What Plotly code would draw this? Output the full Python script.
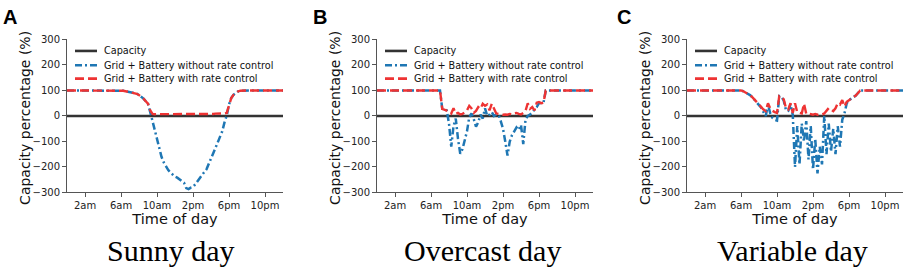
import numpy as np
import plotly.graph_objects as go

# ---------------- data (15-minute resolution, hours 0..24) ----------------
hours = np.arange(0, 24.01, 0.25)
tick_vals = [2, 6, 10, 14, 18, 22]
tick_text = ["2am", "6am", "10am", "2pm", "6pm", "10pm"]
y_ticks = [-300, -200, -100, 0, 100, 200, 300]

capacity = [0] * 97

sunny_no_ctrl = [
    100, 100, 100, 100, 100, 100, 100, 100,
    100, 100, 100, 100, 100, 100, 100, 100,
    100, 100, 100, 100, 100, 100, 100, 100,
    100, 99, 97, 95, 94, 92, 90, 87,
    82, 76, 68, 58, 48, 15, -20, -65,
    -100, -132, -160, -182, -200, -212, -222, -232,
    -238, -242, -248, -255, -262, -283, -287, -281,
    -278, -268, -255, -244, -232, -220, -209, -190,
    -168, -146, -125, -104, -84, -60, -25, 2,
    45, 70, 83, 90, 96, 99, 100, 100,
    100, 100, 100, 100, 100, 100, 100, 100,
    100, 100, 100, 100, 100, 100, 100, 100,
    100,
]
sunny_ctrl = [
    100, 100, 100, 100, 100, 100, 100, 100,
    100, 100, 100, 100, 100, 100, 100, 100,
    100, 100, 100, 100, 100, 100, 100, 100,
    100, 99, 97, 95, 94, 92, 90, 87,
    82, 76, 68, 58, 48, 22, 8, 7,
    7, 7, 7, 7, 6, 6, 6, 6,
    6, 6, 6, 6, 6, 7, 7, 7,
    7, 7, 7, 7, 7, 8, 8, 8,
    8, 8, 9, 9, 9, 10, 10, 12,
    45, 70, 83, 90, 96, 99, 100, 100,
    100, 100, 100, 100, 100, 100, 100, 100,
    100, 100, 100, 100, 100, 100, 100, 100,
    100,
]

overcast_no_ctrl = [
    100, 100, 100, 100, 100, 100, 100, 100,
    100, 100, 100, 100, 100, 100, 100, 100,
    100, 100, 100, 100, 100, 100, 100, 100,
    100, 100, 100, 100, 100, 28, 25, 22,
    -30, -120, -40, -10, -90, -148, -130, -90,
    -60, -5, 10, -12, -42, -25, 5, -10,
    30, 0, 5, 15, 0, 5, 5, -20,
    -50, -100, -155, -100, -75, -60, -45, -55,
    -35, -110, -15, 0, 5, 15, 25, 35,
    50, 50, 52, 100, 100, 100, 100, 100,
    100, 100, 100, 100, 100, 100, 100, 100,
    100, 100, 100, 100, 100, 100, 100, 100,
    100,
]
overcast_ctrl = [
    100, 100, 100, 100, 100, 100, 100, 100,
    100, 100, 100, 100, 100, 100, 100, 100,
    100, 100, 100, 100, 100, 100, 100, 100,
    100, 100, 100, 100, 100, 28, 25, 22,
    18, 10, 30, 8, 12, 6, 8, 15,
    22, 40, 30, 12, 20, 35, 28, 48,
    40, 45, 22, 48, 30, 10, 8, 6,
    5, 6, 5, 8, 6, 10, 12, 8,
    6, 12, 20, 50, 28, 35, 22, 52,
    55, 50, 52, 100, 100, 100, 100, 100,
    100, 100, 100, 100, 100, 100, 100, 100,
    100, 100, 100, 100, 100, 100, 100, 100,
    100,
]

variable_no_ctrl = [
    100, 100, 100, 100, 100, 100, 100, 100,
    100, 100, 100, 100, 100, 100, 100, 100,
    100, 100, 100, 100, 100, 100, 100, 100,
    100, 97, 93, 88, 82, 74, 64, 56,
    45, 32, 15, 0, 45, 10, -8, -15,
    -18, 78, 75, 60, 22, 20, 45, 5,
    -200, -40, -190, -30, -100, -20, -170, -40,
    -210, -90, -225, -120, -190, 0, -150, -30,
    -140, -50, -150, -40, -120, -15, 10, 50,
    62, 68, 74, 80, 90, 100, 100, 100,
    100, 100, 100, 100, 100, 100, 100, 100,
    100, 100, 100, 100, 100, 100, 100, 100,
    100,
]
variable_ctrl = [
    100, 100, 100, 100, 100, 100, 100, 100,
    100, 100, 100, 100, 100, 100, 100, 100,
    100, 100, 100, 100, 100, 100, 100, 100,
    100, 97, 93, 88, 82, 74, 64, 56,
    48, 38, 25, 19, 50, 30, 20, 15,
    12, 78, 75, 65, 30, 25, 50, 12,
    50, 15, 12, 10, 48, 8, 10, 6,
    5, 8, 5, 7, 6, 10, 19, 31,
    25, 19, 30, 50, 45, 62, 37, 56,
    62, 68, 74, 80, 90, 100, 100, 100,
    100, 100, 100, 100, 100, 100, 100, 100,
    100, 100, 100, 100, 100, 100, 100, 100,
    100,
]

panels = [
    ("A", "Sunny day", sunny_no_ctrl, sunny_ctrl),
    ("B", "Overcast day", overcast_no_ctrl, overcast_ctrl),
    ("C", "Variable day", variable_no_ctrl, variable_ctrl),
]
series_names = ["Capacity", "Grid + Battery without rate control", "Grid + Battery with rate control"]
y_title = "Capacity percentage (%)"
x_title = "Time of day"

# ---------------- styling ----------------
W, H = 906, 274
BLACK = "#333333"
BLUE = "#1f77b4"
RED = "#ee3333"
AXC = "#555555"
SANS = "DejaVu Sans"
BLUE_DASH = "7px,3px,2px,3px"
RED_DASH = "9px,4px"
left_px = [67, 377, 687]
plot_w = 216
top_px, bot_px = 35, 195

fig = go.Figure()
layout = dict(
    width=W, height=H, margin=dict(l=0, r=0, t=0, b=0),
    paper_bgcolor="white", plot_bgcolor="white", showlegend=False,
    annotations=[], shapes=[],
)

def px(x):
    return x / W

def py(y):
    return 1 - y / H

for k, (letter, title, no_ctrl, ctrl) in enumerate(panels):
    sfx = "" if k == 0 else str(k + 1)
    xa, ya = "x" + sfx, "y" + sfx
    fig.add_trace(go.Scatter(x=hours, y=capacity, mode="lines", name=series_names[0],
                             line=dict(color=BLACK, width=2.6), xaxis=xa, yaxis=ya))
    fig.add_trace(go.Scatter(x=hours, y=no_ctrl, mode="lines", name=series_names[1],
                             line=dict(color=BLUE, width=2.5, dash=BLUE_DASH), xaxis=xa, yaxis=ya))
    fig.add_trace(go.Scatter(x=hours, y=ctrl, mode="lines", name=series_names[2],
                             line=dict(color=RED, width=2.4, dash=RED_DASH), xaxis=xa, yaxis=ya))

    x0 = left_px[k]
    common = dict(showline=True, linecolor=AXC, linewidth=1, ticks="outside", ticklen=4,
                  tickcolor=AXC, tickwidth=1, showgrid=False, zeroline=False,
                  tickfont=dict(family=SANS, size=10, color="#222"))
    layout["xaxis" + sfx] = dict(
        domain=[px(x0), px(x0 + plot_w)], range=[0, 24], anchor=ya,
        tickvals=tick_vals, ticktext=tick_text,
        title=dict(text=x_title, font=dict(family=SANS, size=14.5, color="#111"), standoff=2),
        **common)
    layout["yaxis" + sfx] = dict(
        domain=[py(bot_px), py(top_px)], range=[-300, 300], anchor=xa,
        tickvals=y_ticks, **common)
    # y-axis title placed precisely
    layout["annotations"].append(dict(text=y_title, xref="paper", yref="paper", textangle=-90,
                                      x=px(x0 - 42), y=py(117), xanchor="center", yanchor="middle",
                                      showarrow=False, font=dict(family=SANS, size=14, color="#111")))

    # legend (per panel)
    rows = [(47, BLACK, "solid"), (62, BLUE, BLUE_DASH), (76, RED, RED_DASH)]
    for (yy, col, dsh), name in zip(rows, series_names):
        layout["shapes"].append(dict(type="line", xref="paper", yref="paper",
                                     x0=px(x0 + 8), x1=px(x0 + 30), y0=py(yy), y1=py(yy),
                                     line=dict(color=col, width=2.6, dash=dsh)))
        layout["annotations"].append(dict(text=name, xref="paper", yref="paper",
                                          x=px(x0 + 35), y=py(yy), xanchor="left", yanchor="middle",
                                          showarrow=False, font=dict(family=SANS, size=9.7, color="#111")))
    # panel letter
    layout["annotations"].append(dict(text="<b>%s</b>" % letter, xref="paper", yref="paper",
                                      x=px([1, 311, 615][k]), y=py(11), xanchor="left", yanchor="middle",
                                      showarrow=False, font=dict(family="Liberation Sans", size=20, color="black")))
    # panel caption
    layout["annotations"].append(dict(text=title, xref="paper", yref="paper",
                                      x=px([171, 482, 792][k]), y=py(256), xanchor="center", yanchor="middle",
                                      showarrow=False, font=dict(family="Liberation Serif", size=30, color="black")))

fig.update_layout(**layout)
fig.write_html("out.html", config={"displayModeBar": False},
               post_script="document.body.style.margin='0px';document.body.style.overflow='hidden';")
